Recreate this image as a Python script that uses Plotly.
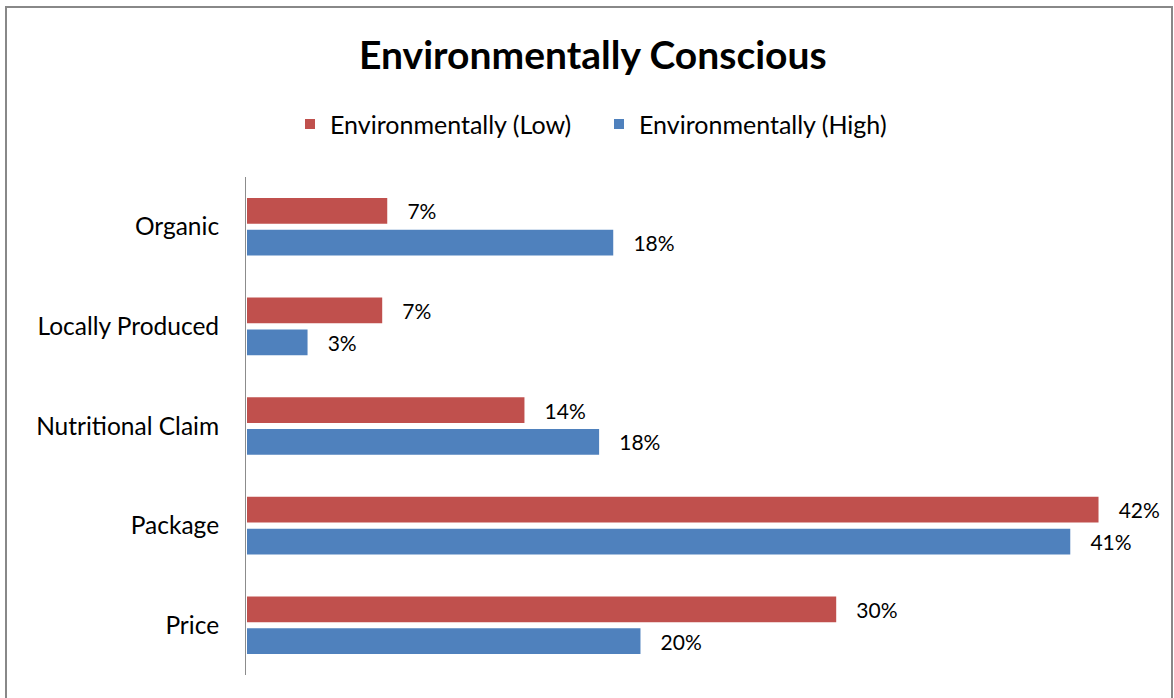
import plotly.graph_objects as go

categories = ["Organic", "Locally Produced", "Nutritional Claim", "Package", "Price"]
low_values = [7.05, 6.8, 13.85, 42.3, 29.3]
high_values = [18.25, 3.1, 17.55, 40.9, 19.6]
low_labels = ["7%", "7%", "14%", "42%", "30%"]
high_labels = ["18%", "3%", "18%", "41%", "20%"]

RED = "#C0504D"
BLUE = "#4F81BD"
FONT = "Lato"

fig = go.Figure()
fig.add_trace(go.Bar(
    y=categories, x=low_values, orientation="h", name="Environmentally (Low)",
    marker=dict(color=RED, line=dict(color="white", width=2)),
    text=["   " + t for t in low_labels], textposition="outside",
    textfont=dict(size=21, color="black", family=FONT), cliponaxis=False,
))
fig.add_trace(go.Bar(
    y=categories, x=high_values, orientation="h", name="Environmentally (High)",
    marker=dict(color=BLUE, line=dict(color="white", width=2)),
    text=["   " + t for t in high_labels], textposition="outside",
    textfont=dict(size=21, color="black", family=FONT), cliponaxis=False,
))

fig.update_layout(
    width=1174, height=698,
    margin=dict(l=246, r=20, t=177, b=23),
    paper_bgcolor="white", plot_bgcolor="white",
    barmode="group", bargap=0.36, bargroupgap=0.13,
    title=dict(text="<b>Environmentally Conscious</b>", x=0.505, xanchor="center",
               y=1 - 55 / 698, yanchor="middle",
               font=dict(size=39, color="black", family=FONT)),
    legend=dict(orientation="h", x=(290 - 246) / 908, xanchor="left", y=1.106, yanchor="middle",
                font=dict(size=25, color="black", family=FONT), traceorder="normal",
                itemwidth=30, entrywidth=264),
    font=dict(family=FONT, color="black"),
    showlegend=True,
)
fig.update_xaxes(range=[0, 45], showticklabels=False, showgrid=False, zeroline=False,
                 showline=False, fixedrange=True)
fig.update_yaxes(autorange="reversed", showline=True, linecolor="#8c8c8c", linewidth=1,
                 ticks="", ticklabelstandoff=21, showgrid=False,
                 tickfont=dict(size=24.5, color="black", family=FONT))

fig.add_shape(type="rect", xref="paper", yref="paper",
              x0=(6 - 246) / 908, x1=(1172 - 246) / 908,
              y0=-0.2, y1=1 + (177 - 7) / 498,
              line=dict(color="#888888", width=2), fillcolor="rgba(0,0,0,0)", layer="below")

fig.write_html("out.html", config={"displayModeBar": False},
               post_script="document.body.style.margin='0';")
